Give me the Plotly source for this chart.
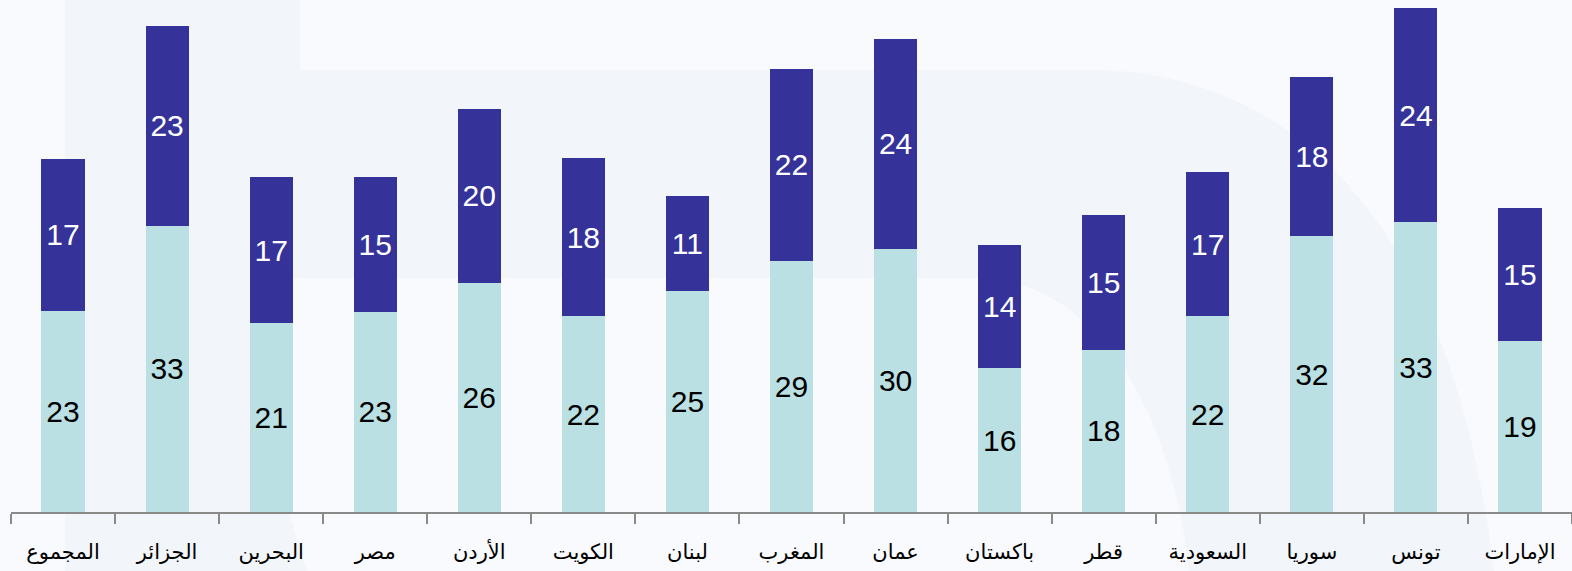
import plotly.graph_objects as go

categories = ["المجموع", "الجزائر", "البحرين", "مصر", "الأردن", "الكويت", "لبنان",
              "المغرب", "عمان", "باكستان", "قطر", "السعودية", "سوريا", "تونس", "الإمارات"]
# segment values
lower_values = [22.9, 32.6, 21.5, 22.8, 26.1, 22.3, 25.2, 28.6, 30.0, 16.4, 18.5, 22.3, 31.4, 33.0, 19.5]
upper_values = [17.3, 22.8, 16.6, 15.3, 19.8, 18.0, 10.8, 21.9, 23.9, 14.0, 15.3, 16.4, 18.1, 24.4, 15.1]
# printed data labels
lower_labels = [23, 33, 21, 23, 26, 22, 25, 29, 30, 16, 18, 22, 32, 33, 19]
upper_labels = [17, 23, 17, 15, 20, 18, 11, 22, 24, 14, 15, 17, 18, 24, 15]

W, H = 1572, 571
L, R, T, B = 11, 0, 0, 59
pw, ph = W - L - R, H - T - B


def px(x, y):
    return (x - L) / pw, (H - B - y) / ph


def path(cmds):
    out = []
    for c in cmds:
        op, pts = c[0], c[1:]
        s = op
        s += " ".join("%.5f,%.5f" % px(*p) for p in pts)
        out.append(s)
    return " ".join(out) + " Z"


fig = go.Figure()
fig.add_trace(go.Bar(
    x=categories, y=lower_values, name="lower",
    marker=dict(color="#bae0e3", line=dict(width=0)),
    text=lower_labels, textposition="inside", insidetextanchor="middle",
    textfont=dict(family="Liberation Sans, Arial", size=30, color="#000000"),
    constraintext="none", textangle=0, hoverinfo="skip",
))
fig.add_trace(go.Bar(
    x=categories, y=upper_values, name="upper",
    marker=dict(color="#353399", line=dict(width=0)),
    text=upper_labels, textposition="inside", insidetextanchor="middle",
    textfont=dict(family="Liberation Sans, Arial", size=30, color="#ffffff"),
    constraintext="none", textangle=0, hoverinfo="skip",
))

outer = path([("M", (65, -5)), ("L", (300, -5)), ("L", (300, 70)), ("L", (1100, 70)),
              ("C", (1320, 77), (1460, 260), (1495, 580)), ("L", (65, 580))])
inner = path([("M", (276, 278)), ("L", (980, 278)),
              ("C", (1110, 285), (1175, 430), (1190, 580)), ("L", (310, 580)),
              ("C", (290, 520), (276, 470), (276, 420))])

fig.update_layout(
    width=W, height=H,
    margin=dict(l=L, r=R, t=T, b=B),
    barmode="stack", bargap=0.585,
    showlegend=False,
    paper_bgcolor="#f9fafd",
    plot_bgcolor="rgba(0,0,0,0)",
    shapes=[
        dict(type="path", path=outer, xref="paper", yref="paper",
             fillcolor="#f2f5fa", line=dict(width=0), layer="below"),
        dict(type="path", path=inner, xref="paper", yref="paper",
             fillcolor="#f9fafd", line=dict(width=0), layer="below"),
    ],
    xaxis=dict(
        type="category", range=[-0.5, 14.5],
        tickson="boundaries", ticks="outside", ticklen=10, tickwidth=1.5,
        tickcolor="#8a8a8a", showline=True, linecolor="#8a8a8a", linewidth=2,
        showgrid=False, zeroline=False,
        tickfont=dict(family="DejaVu Sans", size=21, color="#000000"),
        ticklabelstandoff=20,
    ),
    yaxis=dict(range=[0, 512 / 8.78], visible=False, showgrid=False, zeroline=False),
)

fig.write_html(
    "out.html",
    config={"displayModeBar": False},
    post_script="document.body.style.margin='0';document.body.style.background='#f9fafd';",
)
